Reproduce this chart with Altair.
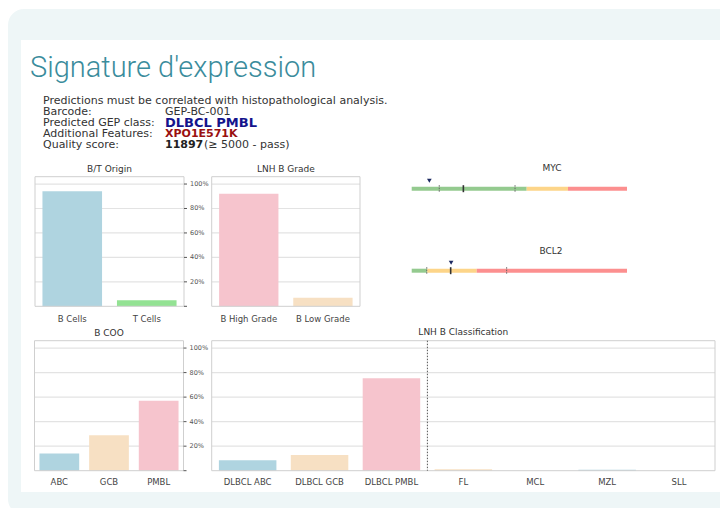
import altair as alt
import pandas as pd

# ------------------------------------------------------------------ data
HEADER_TITLE = "Signature d'expression"
DISCLAIMER = "Predictions must be correlated with histopathological analysis."
INFO_LABELS = ["Barcode:", "Predicted GEP class:", "Additional Features:", "Quality score:"]
BARCODE = "GEP-BC-001"
PREDICTED_CLASS = "DLBCL PMBL"
ADDITIONAL_FEATURES = "XPO1E571K"
QUALITY_SCORE = "11897"
QUALITY_NOTE = "(\u2265 5000 - pass)"

BT_CATS = ["B Cells", "T Cells"]
BT_VALUES = [0.94, 0.05]
GRADE_CATS = ["B High Grade", "B Low Grade"]
GRADE_VALUES = [0.92, 0.07]
COO_CATS = ["ABC", "GCB", "PMBL"]
COO_VALUES = [0.14, 0.29, 0.57]
CLASS_CATS = ["DLBCL ABC", "DLBCL GCB", "DLBCL PMBL", "FL", "MCL", "MZL", "SLL"]
CLASS_VALUES = [0.085, 0.128, 0.754, 0.012, 0.0, 0.007, 0.0]
N_DLBCL = 3

PCT_TICKS = [0.0, 0.2, 0.4, 0.6, 0.8, 1.0]

MYC_BOUNDS = [0, 53.4, 72.6, 100]
MYC_MARKS = [12.8, 48.0]
MYC_CUTOFF = [24.0]
MYC_SAMPLE = [8.2]
BCL2_BOUNDS = [0, 7.2, 30.2, 100]
BCL2_MARKS = [7.0, 44.1]
BCL2_CUTOFF = [18.1]
BCL2_SAMPLE = [18.3]

# ------------------------------------------------------------------ styles
LB, LG, PK, WH = "#afd4e0", "#93e293", "#f6c4cd", "#f7e0c3"
BAR_COLORS = {
    "B Cells": LB, "T Cells": LG, "B High Grade": PK, "B Low Grade": WH,
    "ABC": LB, "GCB": WH, "PMBL": PK,
    "DLBCL ABC": LB, "DLBCL GCB": WH, "DLBCL PMBL": PK,
    "FL": WH, "MCL": PK, "MZL": LB, "SLL": LG,
}
ZONES = ["low", "mid", "high"]
ZONE_COLORS = ["#94ca8f", "#fdd589", "#fc8f8f"]
FONT = "DejaVu Sans"
TXT = "#333333"
OFF = 8  # page margin


def c(v):
    return v - OFF


def one():
    return pd.DataFrame({"k": [0]})


def text_layer(s, x, y, size=11, color=TXT, weight="normal", font=FONT,
               align="left", baseline="middle"):
    return alt.Chart(pd.DataFrame({"t": [s]})).mark_text(
        font=font, fontSize=size, fontWeight=weight, color=color,
        align=align, baseline=baseline,
    ).encode(x=alt.value(c(x)), y=alt.value(c(y)), text="t:N")


def bar_panel(title, cats, values, x0, x1, top, bottom, title_y, label_y,
              right_axis, divider=None):
    layers = []
    X0, X1, T, B = c(x0), c(x1), c(top), c(bottom)
    df = pd.DataFrame({"cat": cats, "val": values})
    xs = alt.Scale(domain=cats, range=[X0, X1], paddingInner=0.2, paddingOuter=0.1)
    ys = alt.Scale(domain=[0, 1.06], range=[B, T], nice=False)
    grid = alt.Chart(pd.DataFrame({"v": PCT_TICKS[1:]})).mark_rule(
        color="#e3e3e3", strokeWidth=1.2
    ).encode(x=alt.value(X0), x2=alt.value(X1), y=alt.Y("v:Q", scale=ys, axis=None))
    layers.append(grid)
    bars = alt.Chart(df).mark_bar().encode(
        x=alt.X("cat:N", scale=xs, axis=None, sort=cats),
        y=alt.Y("val:Q", scale=ys, axis=None),
        color=alt.Color("cat:N", legend=None,
                        scale=alt.Scale(domain=cats, range=[BAR_COLORS[k] for k in cats])),
    )
    layers.append(bars)
    frame = alt.Chart(one()).mark_rect(fillOpacity=0, stroke="#cfcfcf", strokeWidth=1).encode(
        x=alt.value(X0), x2=alt.value(X1), y=alt.value(T), y2=alt.value(B)
    )
    layers.append(frame)
    if divider is not None:
        dv = alt.Chart(pd.DataFrame({"b": [divider]})).mark_rule(
            color="#555555", strokeWidth=1, strokeDash=[1.5, 1.5]
        ).encode(
            x=alt.X("b:Q", axis=None,
                    scale=alt.Scale(domain=[0, len(cats)], range=[X0, X1], nice=False, zero=False)),
            y=alt.value(T), y2=alt.value(B),
        )
        layers.append(dv)
    xl = alt.Chart(df).mark_text(font=FONT, fontSize=8.5, color="#444444",
                                 baseline="middle", align="center").encode(
        x=alt.X("cat:N", scale=xs, axis=None, sort=cats),
        y=alt.value(c(label_y)), text="cat:N",
    )
    layers.append(xl)
    layers.append(text_layer(title, (x0 + x1) / 2, title_y, size=9, align="center"))
    if right_axis:
        ticks = alt.Chart(pd.DataFrame({"v": PCT_TICKS})).mark_rule(
            color="#555555", strokeWidth=1
        ).encode(x=alt.value(X1), x2=alt.value(X1 + 3), y=alt.Y("v:Q", scale=ys, axis=None))
        layers.append(ticks)
        tl = alt.Chart(pd.DataFrame({"v": PCT_TICKS[1:]})).mark_text(
            font=FONT, fontSize=6.5, color="#555555", align="left", baseline="middle"
        ).encode(
            x=alt.value(X1 + 6), y=alt.Y("v:Q", scale=ys, axis=None),
            text=alt.Text("v:Q", format=".0%"),
        )
        layers.append(tl)
    return layers


def track(name, bounds, marks, cutoff, sample, x0, x1, line_y, title_x, title_y):
    X0, X1, Y = c(x0), c(x1), c(line_y)
    xs = alt.Scale(domain=[0, 100], range=[X0, X1], nice=False, zero=False)
    seg = pd.DataFrame({"start": bounds[:-1], "end": bounds[1:], "zone": ZONES})
    segs = alt.Chart(seg).mark_rule(strokeWidth=4, strokeCap="butt").encode(
        x=alt.X("start:Q", scale=xs, axis=None), x2="end:Q", y=alt.value(Y),
        color=alt.Color("zone:N", legend=None,
                        scale=alt.Scale(domain=ZONES, range=ZONE_COLORS)),
    )
    t1 = alt.Chart(pd.DataFrame({"m": marks})).mark_rule(
        color="#666666", strokeWidth=1, strokeDash=[1.5, 1]
    ).encode(x=alt.X("m:Q", scale=xs, axis=None), y=alt.value(Y - 3.5), y2=alt.value(Y + 3.5))
    t2 = alt.Chart(pd.DataFrame({"m": cutoff})).mark_rule(
        color="#333333", strokeWidth=1.6
    ).encode(x=alt.X("m:Q", scale=xs, axis=None), y=alt.value(Y - 3.5), y2=alt.value(Y + 3.5))
    mk = alt.Chart(pd.DataFrame({"s": sample})).mark_point(
        shape="triangle-down", filled=True, size=22, color="#1d2a62", opacity=1
    ).encode(x=alt.X("s:Q", scale=xs, axis=None), y=alt.value(Y - 8))
    return [segs, t1, t2, mk, text_layer(name, title_x, title_y, size=9, align="center")]


layers = []
# background panel and white card
layers.append(alt.Chart(one()).mark_rect(color="#eef6f7", cornerRadius=16).encode(
    x=alt.value(0), x2=alt.value(740), y=alt.value(1), y2=alt.value(507)))
layers.append(alt.Chart(one()).mark_rect(color="#ffffff").encode(
    x=alt.value(13), x2=alt.value(716), y=alt.value(32), y2=alt.value(484)))

# header
layers.append(text_layer(HEADER_TITLE, 30, 77, size=29, color="#3a8c9c",
                         font="Roboto", weight=300, baseline="alphabetic"))
layers.append(text_layer(DISCLAIMER, 43, 100.5))
ys_info = [111.5, 122.5, 133.5, 144.5]
for lab, yy in zip(INFO_LABELS, ys_info):
    layers.append(text_layer(lab, 43, yy))
layers.append(text_layer(BARCODE, 165, ys_info[0]))
layers.append(text_layer(PREDICTED_CLASS, 165, ys_info[1] + 0.5, size=13, weight="bold", color="#14148c"))
layers.append(text_layer(ADDITIONAL_FEATURES, 165, ys_info[2] + 0.5, size=11, weight="bold", color="#9a1010"))
layers.append(text_layer(QUALITY_SCORE, 165, ys_info[3], size=11, weight="bold", color="#222222"))
layers.append(text_layer(QUALITY_NOTE, 204, ys_info[3]))

# bar panels
layers += bar_panel("B/T Origin", BT_CATS, BT_VALUES, 35, 184, 176.7, 306.3, 169, 318.5, True)
layers += bar_panel("LNH B Grade", GRADE_CATS, GRADE_VALUES, 211.7, 360, 176.7, 306.3, 169, 318.5, False)
layers += bar_panel("B COO", COO_CATS, COO_VALUES, 34.5, 183.5, 340.7, 470.7, 332.7, 482.3, True)
layers += bar_panel("LNH B Classification", CLASS_CATS, CLASS_VALUES, 211.7, 715, 340.7, 470.7,
                    331.5, 482.3, False, divider=N_DLBCL)

# gene tracks
layers += track("MYC", MYC_BOUNDS, MYC_MARKS, MYC_CUTOFF, MYC_SAMPLE, 411.7, 627, 188.7, 552, 168)
layers += track("BCL2", BCL2_BOUNDS, BCL2_MARKS, BCL2_CUTOFF, BCL2_SAMPLE, 411.7, 627, 270.7, 551, 251)

chart = alt.layer(*layers).resolve_scale(
    x="independent", y="independent", color="independent"
).properties(
    width=712, height=500, padding=0, background="#ffffff",
    autosize=alt.AutoSizeParams(type="none"),
).configure_view(strokeWidth=0)

chart.save("out.html", embed_options={"renderer": "svg", "actions": False})
